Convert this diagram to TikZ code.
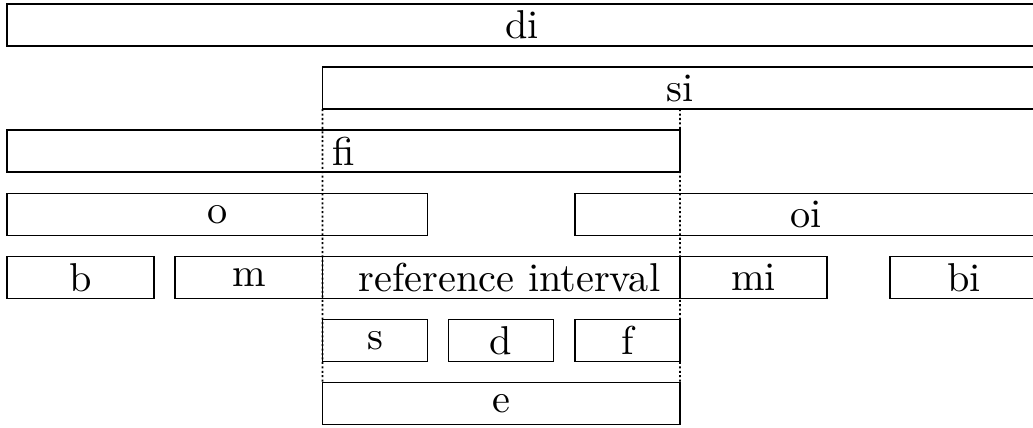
\documentclass[tikz,border=0pt]{standalone}
\begin{document}
\begin{tikzpicture}[x=0.2cm,y=0.2cm,
  ivl/.style={draw, line width=0.4pt, inner sep=0pt, outer sep=0pt,
    minimum height=0.4cm, font=\fontsize{10.9}{13}\selectfont},
  lbl/.style={inner sep=0pt, font=\fontsize{10.9}{13}\selectfont},
  dotline/.style={line width=0.45pt, dash pattern=on 0.55pt off 0.65pt}]
\clip (-0.333,-0.143) rectangle (48.79,20.19);
% row 0
\node[ivl, minimum width=9.8cm] (di) at (24.5,19) {di};
% row 1
\node[ivl, minimum width=6.8cm] (si) at (32,16) {si};
% row 2
\node[ivl, minimum width=6.4cm] (fi) at (16,13) {fi};
% row 3
\node[ivl, minimum width=4.0cm] (o) at (10,10) {o};
\node[ivl, minimum width=4.4cm] (oi) at (38,10) {oi};
% row 4
\node[ivl, minimum width=1.4cm] (b) at (3.5,7) {b};
\node[ivl, minimum width=1.4cm] (m) at (11.5,7) {m};
\node[ivl, minimum width=3.4cm] (ref) at (23.5,7) {};
\node[lbl] (reflbl) at (23.9,7) {reference interval};
\node[ivl, minimum width=1.4cm] (mi) at (35.5,7) {mi};
\node[ivl, minimum width=1.4cm] (bi) at (45.5,7) {bi};
% row 5
\node[ivl, minimum width=1.0cm] (s) at (17.5,4) {s};
\node[ivl, minimum width=1.0cm] (d) at (23.5,4) {d};
\node[ivl, minimum width=1.0cm] (f) at (29.5,4) {f};
% row 6
\node[ivl, minimum width=3.4cm] (e) at (23.5,1) {e};
% dotted guides
\draw[dotline] (si.south west) -- (e.north west);
\draw[dotline] (si.south) -- (e.north east);
\end{tikzpicture}
\end{document}
